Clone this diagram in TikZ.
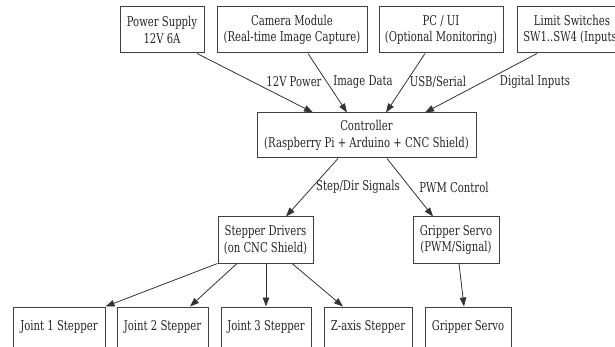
\documentclass[tikz,border=0pt]{standalone}
\usepackage{fontspec}
\setmainfont{DejaVu Serif Condensed}[FakeStretch=0.83]
\usetikzlibrary{arrows.meta}
\begin{document}
\begin{tikzpicture}[x=1pt,y=-1pt,
  box/.style={draw=black!75,line width=1pt,fill=white,inner sep=0pt,align=center,
    font=\fontsize{13.5}{16.5}\selectfont,text=black!85},
  lbl/.style={font=\fontsize{13.5}{15}\selectfont,text=black!85,inner sep=0pt},
  arr/.style={draw=black!80,line width=0.8pt,-{Triangle[length=9pt,width=6.5pt]}}]
\useasboundingbox (0,0) rectangle (615,347);
\clip (0,0) rectangle (615,347);
% top row
\node[box,minimum width=84pt,minimum height=46pt] (ps) at (162,30) {Power Supply\\12V 6A};
\node[box,minimum width=150pt,minimum height=46pt] (cam) at (292,30) {Camera Module\\(Real-time Image Capture)};
\node[box,minimum width=124pt,minimum height=46pt] (pc) at (441,30) {PC / UI\\(Optional Monitoring)};
\node[box,minimum width=110pt,minimum height=46pt] (lim) at (572,30) {Limit Switches\\SW1..SW4 (Inputs)};
% controller
\node[box,minimum width=219pt,minimum height=45pt] (ctrl) at (366.5,135.5) {Controller\\(Raspberry Pi + Arduino + CNC Shield)};
% middle
\node[box,minimum width=95pt,minimum height=46pt] (sd) at (265.5,240) {Stepper Drivers\\(on CNC Shield)};
\node[box,minimum width=86pt,minimum height=46pt] (gp) at (456,240) {Gripper Servo\\(PWM/Signal)};
% bottom
\node[box,minimum width=92pt,minimum height=40pt] (j1) at (59,327) {Joint 1 Stepper};
\node[box,minimum width=91pt,minimum height=40pt] (j2) at (162.5,327) {Joint 2 Stepper};
\node[box,minimum width=90pt,minimum height=40pt] (j3) at (266,327) {Joint 3 Stepper};
\node[box,minimum width=88pt,minimum height=40pt] (z) at (368,327) {Z-axis Stepper};
\node[box,minimum width=86pt,minimum height=40pt] (gs) at (468,327) {Gripper Servo};
% edges
\draw[arr] ([xshift=35pt]ps.south) -- ([xshift=-53.5pt]ctrl.north);
\draw[arr] ([xshift=16pt]cam.south) -- ([xshift=-19.5pt]ctrl.north);
\draw[arr] ([xshift=-16pt]pc.south) -- ([xshift=19.5pt]ctrl.north);
\draw[arr] ([xshift=-35pt]lim.south) -- ([xshift=58.5pt]ctrl.north);
\draw[arr] ([xshift=-28.5pt]ctrl.south) -- ([xshift=20.5pt]sd.north);
\draw[arr] ([xshift=20.5pt]ctrl.south) -- ([xshift=-23pt]gp.north);
\draw[arr] (sd.south west) -- (j1.north east);
\draw[arr] ([xshift=-28.5pt]sd.south) -- ([xshift=27.5pt]j2.north);
\draw[arr] ([xshift=0.5pt]sd.south) -- (j3.north);
\draw[arr] ([xshift=26.5pt]sd.south) -- ([xshift=-25pt]z.north);
\draw[arr] ([xshift=3pt]gp.south) -- ([xshift=-4pt]gs.north);
% labels
\node[lbl] (l1) at (294,82) {12V Power};
\node[lbl] (l2) at (363,82) {Image Data};
\node[lbl] (l3) at (438,82) {USB/Serial};
\node[lbl] (l4) at (535,82) {Digital Inputs};
\node[lbl] (l5) at (358,187) {Step/Dir Signals};
\node[lbl] (l6) at (454,187) {PWM Control};
\end{tikzpicture}
\end{document}
